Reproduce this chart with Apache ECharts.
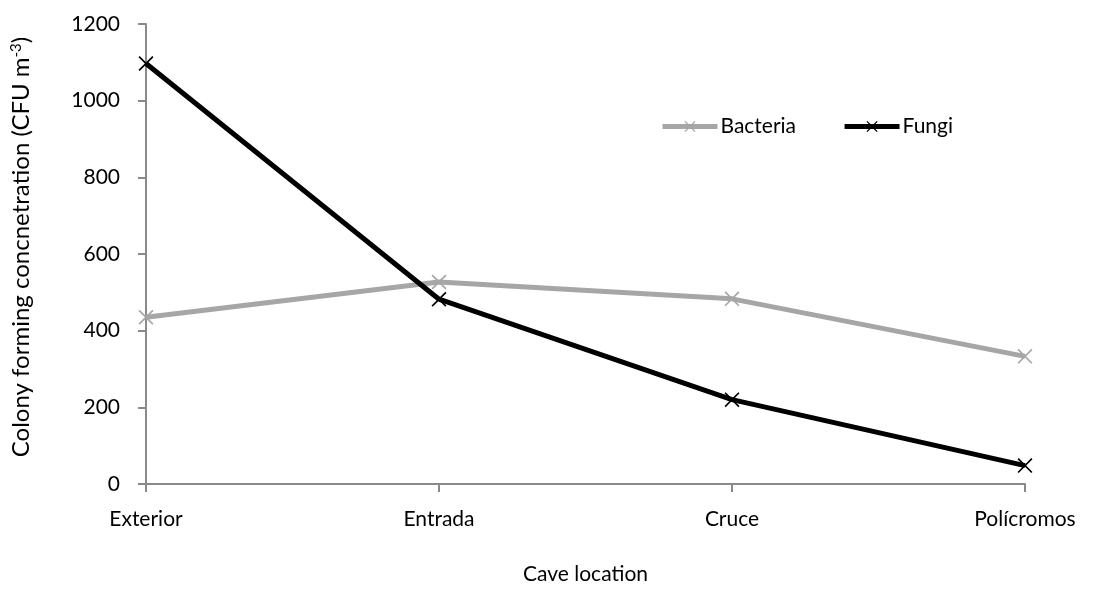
<!DOCTYPE html>
<html>
<head>
<meta charset="utf-8">
<script src="https://cdn.jsdelivr.net/npm/echarts@6/dist/echarts.min.js"></script>
<style>
  html, body { margin: 0; padding: 0; background: #fff; }
  #chart { width: 1096px; height: 590px; }
</style>
</head>
<body>
<div id="chart"></div>
<script>
// Airborne colony counts along the cave route
const locations = ['Exterior', 'Entrada', 'Cruce', 'Polícromos'];
const bacteria = [435, 527, 483, 333];
const fungi = [1097, 482, 220, 48];
const yTicks = { min: 0, max: 1200, step: 200 };

// filled "x" cross used as the point marker
const crossMark = 'path://M0,8 L8,0 L50,42 L92,0 L100,8 L58,50 L100,92 L92,100 L50,58 L8,100 L0,92 L42,50 Z';

const axisGrey = '#8a8a8a';
const textFont = 'Lato, sans-serif';
const tickFont = { fontFamily: textFont, fontSize: 21, color: '#000' };

const chart = echarts.init(document.getElementById('chart'), null, { renderer: 'canvas' });

function lineSeries(name, values, colour) {
  return {
    name: name,
    type: 'line',
    data: values,
    symbol: crossMark,
    symbolSize: 15,
    showSymbol: true,
    lineStyle: { color: colour, width: 5 },
    itemStyle: { color: colour },
    emphasis: { disabled: true },
    z: name === 'Fungi' ? 3 : 2
  };
}

chart.setOption({
  animation: false,
  backgroundColor: '#fff',
  grid: { left: 146, right: 71, top: 24, bottom: 106, containLabel: false, outerBoundsMode: 'none' },
  legend: {
    left: 660,
    top: 116,
    padding: 0,
    itemWidth: 55,
    itemHeight: 14,
    itemGap: 46,
    lineStyle: { width: 5 },
    textStyle: { fontFamily: textFont, fontSize: 21, color: '#000', padding: [0, 0, 0, -2] },
    data: ['Bacteria', 'Fungi']
  },
  xAxis: {
    type: 'category',
    data: locations,
    boundaryGap: false,
    name: 'Cave location',
    nameLocation: 'middle',
    nameGap: 80,
    nameTextStyle: { fontFamily: textFont, fontSize: 21, color: '#000' },
    axisLine: { show: true, lineStyle: { color: axisGrey, width: 2 } },
    axisTick: { show: true, length: 8, lineStyle: { color: axisGrey, width: 2 } },
    axisLabel: Object.assign({ margin: 25 }, tickFont),
    splitLine: { show: false }
  },
  yAxis: {
    type: 'value',
    min: yTicks.min,
    max: yTicks.max,
    interval: yTicks.step,
    name: 'Colony forming concnetration (CFU m{sup|-3})',
    nameLocation: 'middle',
    nameGap: 112,
    nameRotate: 90,
    nameTextStyle: {
      fontFamily: textFont,
      fontSize: 24,
      color: '#000',
      padding: [0, 0, 0, 14],
      rich: {
        sup: { fontFamily: textFont, fontSize: 15, color: '#000', verticalAlign: 'top', padding: [0, 0, 10, 0] }
      }
    },
    axisLine: { show: true, lineStyle: { color: axisGrey, width: 2 } },
    axisTick: { show: true, length: 8, lineStyle: { color: axisGrey, width: 2 } },
    axisLabel: Object.assign({ margin: 26, formatter: v => String(v) }, tickFont),
    splitLine: { show: false }
  },
  series: [
    lineSeries('Bacteria', bacteria, '#a6a6a6'),
    lineSeries('Fungi', fungi, '#000000')
  ]
});
</script>
</body>
</html>
